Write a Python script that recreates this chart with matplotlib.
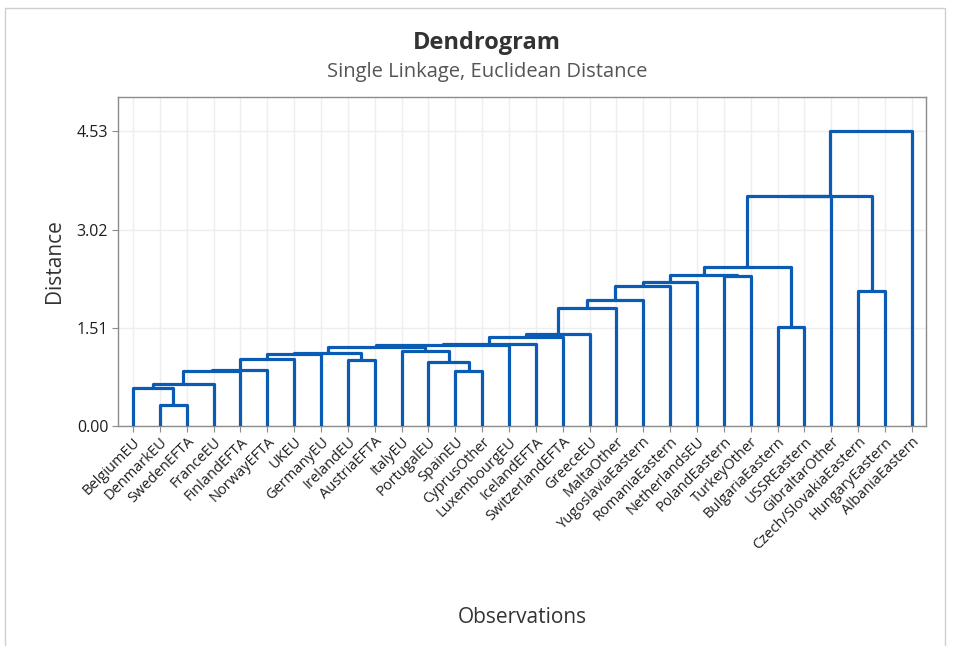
import numpy as np
import matplotlib.pyplot as plt
from matplotlib.patches import Rectangle

plt.rcParams['font.family'] = ['Open Sans', 'DejaVu Sans']

labels = ["BelgiumEU", "DenmarkEU", "SwedenEFTA", "FranceEU", "FinlandEFTA",
          "NorwayEFTA", "UKEU", "GermanyEU", "IrelandEU", "AustriaEFTA",
          "ItalyEU", "PortugalEU", "SpainEU", "CyprusOther", "LuxembourgEU",
          "IcelandEFTA", "SwitzerlandEFTA", "GreeceEU", "MaltaOther",
          "YugoslaviaEastern", "RomaniaEastern", "NetherlandsEU",
          "PolandEastern", "TurkeyOther", "BulgariaEastern", "USSREastern",
          "GibraltarOther", "Czech/SlovakiaEastern", "HungaryEastern",
          "AlbaniaEastern"]

# each join: (cluster a, cluster b, distance)
# ids below 30 are observations, id 30+k is the k-th join
join_a = [1, 0, 31, 32, 33, 34, 8, 35, 37, 12, 11, 10, 38, 42, 43, 44, 45,
          46, 47, 48, 49, 22, 50, 24, 52, 27, 54, 56, 57]
join_b = [2, 30, 3, 4, 5, 6, 9, 7, 36, 13, 39, 40, 41, 14, 15, 16, 17,
          18, 19, 20, 21, 23, 51, 25, 53, 28, 26, 55, 29]
join_dist = [0.32, 0.58, 0.64, 0.85, 0.86, 1.03, 1.02, 1.11, 1.12, 0.84,
             0.98, 1.16, 1.22, 1.25, 1.26, 1.37, 1.42, 1.81, 1.94, 2.15,
             2.22, 2.30, 2.32, 1.52, 2.45, 2.08, 3.54, 3.54, 4.53]

n = len(labels)
xpos = list(range(n))
ypos = [0.0] * n

blue = '#0a5bb4'

fig = plt.figure(figsize=(9.64, 6.46), dpi=100)
ax = fig.add_axes([0.1224, 0.3406, 0.8382, 0.5092])

for a, b, d in zip(join_a, join_b, join_dist):
    xa, ya = xpos[a], ypos[a]
    xb, yb = xpos[b], ypos[b]
    ax.plot([xa, xa, xb, xb], [ya, d, d, yb], color=blue, lw=2.3,
            solid_joinstyle='round', solid_capstyle='butt', zorder=3)
    xpos.append((xa + xb) / 2)
    ypos.append(d)

top = max(join_dist)
yticks = np.linspace(0, top, 4)

ax.set_xlim(-0.56, n - 1 + 0.53)
ax.set_ylim(0, top * 1.117)
ax.set_yticks(yticks)
ax.set_yticklabels(['%.2f' % v for v in yticks], fontsize=11.5, color='#1e1e1e')
ax.set_xticks(range(n))
ax.set_xticklabels(labels, rotation=45, ha='right', rotation_mode='anchor',
                   fontsize=10.5, color='#1e1e1e')
ax.tick_params(axis='both', length=4, width=0.8, color='#8c8c8c', pad=3)
ax.tick_params(axis='x', pad=2)

ax.grid(True, color='#eeeeee', lw=1.0, zorder=0)
ax.set_axisbelow(True)
for s in ax.spines.values():
    s.set_color('#8c8c8c')
    s.set_linewidth(1.0)

ax.set_ylabel('Distance', fontsize=15, color='#333333')
ax.yaxis.set_label_coords(-0.066, 0.5)
ax.set_xlabel('Observations', fontsize=15, color='#333333')
ax.xaxis.set_label_coords(0.5, -0.55)

fig.text(0.505, 0.934, 'Dendrogram', ha='center', va='center',
         fontsize=17, fontweight='bold', color='#333333')
fig.text(0.505, 0.888, 'Single Linkage, Euclidean Distance', ha='center',
         va='center', fontsize=14.5, color='#555555')

# outer frame of the graph window
fig.patches.append(Rectangle((5 / 964, -0.01), 940 / 964, 1 - 8 / 646 + 0.01,
                             transform=fig.transFigure, fill=False,
                             edgecolor='#cfcfcf', lw=1.0))

fig.savefig('out.png', dpi=100)
